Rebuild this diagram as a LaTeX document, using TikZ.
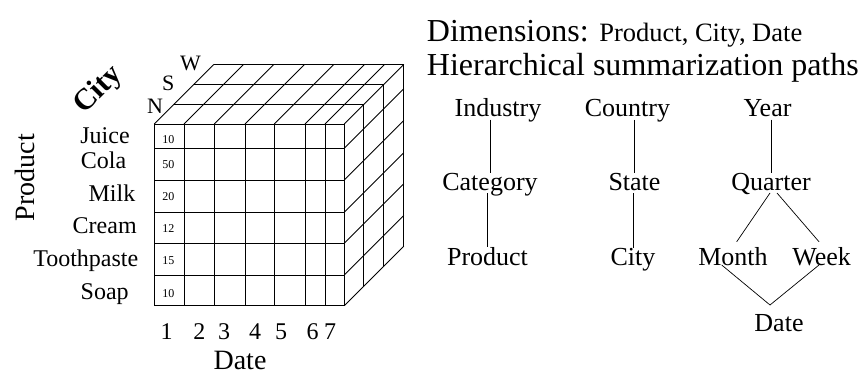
\documentclass[tikz,border=0pt]{standalone}
\usepackage{fontspec}
\setmainfont{Liberation Serif}
\usepackage{tikz}
\usetikzlibrary{positioning,calc}
\tikzset{
  gridline/.style={line width=0.9pt, color=black},
  cellnum/.style={font=\fontsize{12}{12}\selectfont, inner sep=0pt},
  rowlabel/.style={font=\fontsize{24}{24}\selectfont, inner sep=0pt, anchor=base},
  axislabel/.style={font=\fontsize{28}{28}\selectfont, inner sep=0pt},
  citylabel/.style={font=\fontsize{22}{22}\selectfont, inner sep=0pt},
  headline/.style={font=\fontsize{32}{32}\selectfont, inner sep=0pt, anchor=base west},
  levelnode/.style={font=\fontsize{26}{26}\selectfont, inner sep=0pt, anchor=base},
  pathline/.style={line width=0.7pt, color=black},
}

\begin{document}
\begin{tikzpicture}[x=1pt, y={(0pt,-1pt)}]
  \useasboundingbox (0,0) rectangle (861,374);

  % data cube: front face
  \foreach \x in {154.3,184,214.3,245,274.3,305,325,344.3}
    \draw[gridline] (\x,124) -- (\x,305.7);
  \foreach \y in {124,148.3,180,212.3,243.3,275,305.7}
    \draw[gridline] (154.3,\y) -- (344.3,\y);
  % top face
  \foreach \x in {154.3,184,214.3,245,274.3,305,325,344.3}
    \draw[gridline] (\x,124) -- ++(59.5,-59.5);
  \foreach \d in {19.5,39.5,59.5}
    \draw[gridline] (154.3+\d,124-\d) -- (344.3+\d,124-\d);
  % right face
  \foreach \y in {148.3,180,212.3,243.3,275,305.7}
    \draw[gridline] (344.3,\y) -- ++(59.5,-59.5);
  \foreach \d in {19.5,39.5,59.5}
    \draw[gridline] (344.3+\d,124-\d) -- (344.3+\d,305.7-\d);

  % cell values
  \node[cellnum] (v1) at (168.3,140) {10};
  \node[cellnum] (v2) at (168.3,165) {50};
  \node[cellnum] (v3) at (168.3,196.7) {20};
  \node[cellnum] (v4) at (168.3,229) {12};
  \node[cellnum] (v5) at (168.3,261) {15};
  \node[cellnum] (v6) at (168.3,294) {10};

  % products
  \node[rowlabel] (juice) at (105,144) {Juice};
  \node[rowlabel] (cola) at (103.5,168.3) {Cola};
  \node[rowlabel] (milk) at (112,201.7) {Milk};
  \node[rowlabel] (cream) at (104.7,233.3) {Cream};
  \node[rowlabel] (paste) at (85.8,266.7) {Toothpaste};
  \node[rowlabel] (soap) at (104.7,299.3) {Soap};

  % dates
  \node[rowlabel] (d1) at (166.7,339) {1};
  \node[rowlabel] (d2) at (199.3,339) {2};
  \node[rowlabel] (d3) at (224,339) {3};
  \node[rowlabel] (d4) at (255,339) {4};
  \node[rowlabel] (d5) at (281,339) {5};
  \node[rowlabel] (d6) at (312.7,339) {6};
  \node[rowlabel] (d7) at (330,339) {7};

  % cities
  \node[citylabel] (north) at (155,106.7) {N};
  \node[citylabel] (south) at (168.3,83.3) {S};
  \node[citylabel] (west) at (190.5,63.3) {W};

  % axis names
  \node[axislabel, rotate=90] (prodaxis) at (25,177.5) {Product};
  \node[axislabel, rotate=45, font=\fontsize{30}{30}\selectfont\bfseries] (cityaxis) at (99,90) {City};
  \node[axislabel] (dateaxis) at (240,360) {Date};

  % headings
  \node[headline] (dims) at (426.7,41.7) {Dimensions: {\fontsize{26.5}{26.5}\selectfont Product, City, Date}};
  \node[headline] (paths) at (426.7,76) {Hierarchical summarization paths};

  % hierarchies
  \node[levelnode] (ind) at (498,116.7) {Industry};
  \node[levelnode] (cat) at (490,190) {Category};
  \node[levelnode] (prd) at (487.5,265) {Product};
  \node[levelnode] (cou) at (627.5,116.7) {Country};
  \node[levelnode] (sta) at (634.5,190) {State};
  \node[levelnode] (cty) at (633,265) {City};
  \node[levelnode] (yr) at (767.5,116.7) {Year};
  \node[levelnode] (qtr) at (771,190) {Quarter};
  \node[levelnode] (mon) at (733,265) {Month};
  \node[levelnode] (wek) at (821.7,265) {Week};
  \node[levelnode] (dat) at (779,331.7) {Date};
  \coordinate (join) at (770,305);

  \draw[pathline] ([yshift=-3pt]ind.base -| cat.north) -- (cat.north);
  \draw[pathline] ([yshift=-3pt]cat.base -| prd.north) -- (prd.north);
  \draw[pathline] ([yshift=-3pt]cou.base -| sta.north) -- (sta.north);
  \draw[pathline] ([yshift=-3pt]sta.base -| cty.north) -- (cty.north);
  \draw[pathline] ([yshift=-3pt]yr.base -| qtr.north) -- (qtr.north);
  \draw[pathline] ([xshift=-1pt, yshift=-3pt]qtr.base) -- ([xshift=3.7pt, yshift=5pt]mon.north);
  \draw[pathline] ([xshift=6pt, yshift=-3pt]qtr.base) -- ([xshift=-2.7pt, yshift=5pt]wek.north);
  \draw[pathline] ([xshift=-11.3pt]mon.base) -- (join);
  \draw[pathline] ([xshift=-2.7pt]wek.base) -- (join);
\end{tikzpicture}
\end{document}
